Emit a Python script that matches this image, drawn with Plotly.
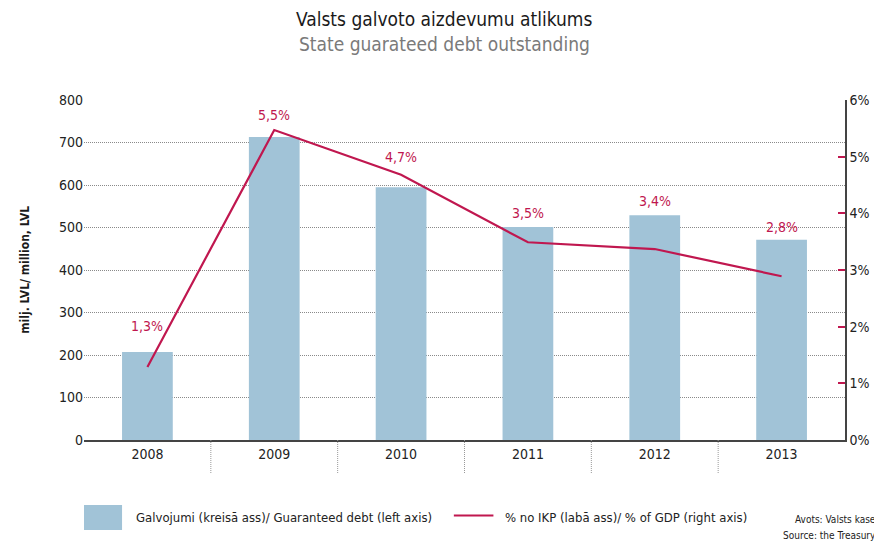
import plotly.graph_objects as go

years = ["2008", "2009", "2010", "2011", "2012", "2013"]
guaranteed_debt = [207, 713, 595, 501, 529, 471]
pct_of_gdp = [1.29, 5.47, 4.68, 3.49, 3.37, 2.89]
pct_labels = ["1,3%", "5,5%", "4,7%", "3,5%", "3,4%", "2,8%"]
label_y = [2.01, 5.73, 4.99, 4.0, 4.22, 3.76]

BAR_COLOR = "#a1c3d7"
LINE_COLOR = "#c0174f"
FONT = "DejaVu Sans Condensed, Liberation Sans Narrow, Roboto, Arial"

fig = go.Figure()

fig.add_trace(go.Bar(
    x=years, y=guaranteed_debt,
    marker=dict(color=BAR_COLOR, line=dict(width=0)),
    width=0.4,
    showlegend=False,
    hoverinfo="skip",
))

fig.add_trace(go.Scatter(
    x=years, y=pct_of_gdp,
    mode="lines",
    line=dict(color=LINE_COLOR, width=2.2),
    yaxis="y2",
    showlegend=False,
    hoverinfo="skip",
))

# percentage labels (category index, since the years look numeric)
for i, (lab, ly) in enumerate(zip(pct_labels, label_y)):
    fig.add_annotation(x=i, y=ly, xref="x", yref="y2", text=lab, showarrow=False,
                       font=dict(color=LINE_COLOR, size=14, family=FONT))

# dotted separators under the x axis
for i in range(len(years) - 1):
    fig.add_shape(type="line", xref="x", yref="paper",
                  x0=i + 0.5, x1=i + 0.5, y0=0, y1=-0.098,
                  line=dict(color="#999999", width=1, dash="1px,1px"))

# titles
fig.add_annotation(xref="paper", yref="paper", x=0.474, y=1.238,
                   xanchor="center", yanchor="middle", showarrow=False,
                   text="Valsts galvoto aizdevumu atlikums",
                   font=dict(size=19, color="#1a1a1a", family=FONT))
fig.add_annotation(xref="paper", yref="paper", x=0.474, y=1.165,
                   xanchor="center", yanchor="middle", showarrow=False,
                   text="State guarateed debt outstanding",
                   font=dict(size=19, color="#7a7a7a", family=FONT))

# y axis title
fig.add_annotation(xref="paper", yref="paper", x=-0.078, y=0.5,
                   xanchor="center", yanchor="middle", showarrow=False,
                   textangle=-90,
                   text="<b>milj. LVL/ million, LVL</b>",
                   font=dict(size=12, color="#1a1a1a", family=FONT))

# custom legend
fig.add_shape(type="rect", xref="paper", yref="paper",
              x0=0.0, x1=0.05, y0=-0.265, y1=-0.191,
              fillcolor=BAR_COLOR, line=dict(width=0))
fig.add_annotation(xref="paper", yref="paper", x=0.066, y=-0.229,
                   xanchor="left", yanchor="middle", showarrow=False,
                   text="Galvojumi (kreisā ass)/ Guaranteed debt (left axis)",
                   font=dict(size=13, color="#222222", family=FONT))
fig.add_shape(type="line", xref="paper", yref="paper",
              x0=0.486, x1=0.538, y0=-0.222, y1=-0.222,
              line=dict(color=LINE_COLOR, width=2))
fig.add_annotation(xref="paper", yref="paper", x=0.551, y=-0.229,
                   xanchor="left", yanchor="middle", showarrow=False,
                   text="% no IKP (labā ass)/ % of GDP (right axis)",
                   font=dict(size=13, color="#222222", family=FONT))
fig.add_annotation(xref="paper", yref="paper", x=1.044, y=-0.235,
                   xanchor="right", yanchor="middle", showarrow=False,
                   text="Avots: Valsts kase",
                   font=dict(size=10, color="#222222", family=FONT))
fig.add_annotation(xref="paper", yref="paper", x=1.044, y=-0.28,
                   xanchor="right", yanchor="middle", showarrow=False,
                   text="Source: the Treasury",
                   font=dict(size=10, color="#222222", family=FONT))

fig.update_layout(
    width=874, height=534,
    margin=dict(l=76, r=26, t=92, b=102),
    paper_bgcolor="white", plot_bgcolor="white",
    font=dict(family=FONT, size=14, color="#222222"),
    xaxis=dict(
        type="category",
        showline=True, linecolor="#444444", linewidth=1.5,
        showgrid=False, ticks="", tickfont=dict(size=14),
        range=[-0.5, 5.5],
    ),
    yaxis=dict(
        range=[0, 800], dtick=100,
        showgrid=True, gridcolor="#8a8a8a", griddash="1px,1px", gridwidth=1,
        zeroline=False, showline=False, ticks="",
        tickfont=dict(size=14),
    ),
    yaxis2=dict(
        overlaying="y", side="right",
        range=[0, 6], dtick=1, ticksuffix="%",
        showgrid=False, zeroline=False,
        showline=True, linecolor="#444444", linewidth=1.5,
        ticks="inside", ticklen=7, tickcolor=LINE_COLOR, tickwidth=1.5,
        tickfont=dict(size=14),
    ),
    bargap=0.6,
)

fig.write_html("out.html")
